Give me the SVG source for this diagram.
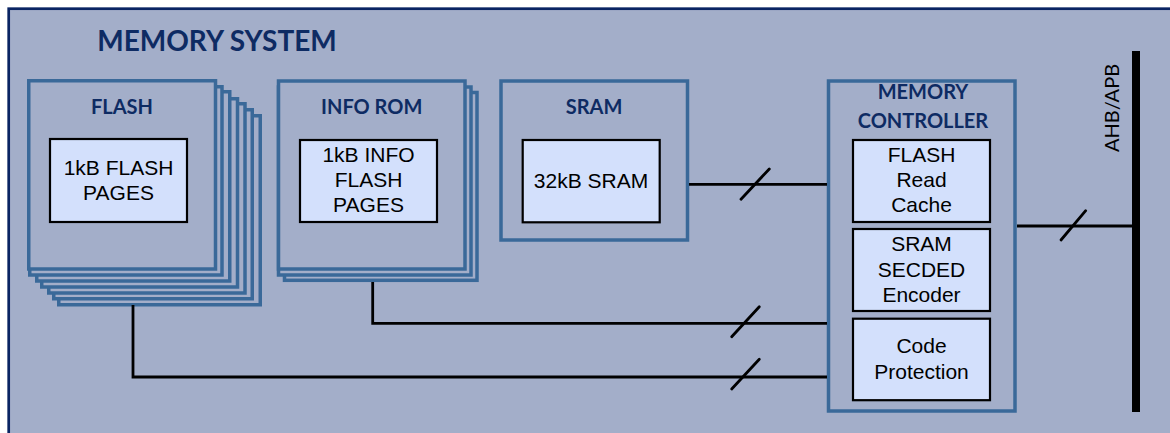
<svg xmlns="http://www.w3.org/2000/svg" width="1170" height="433" viewBox="0 0 1170 433">
<style>
.bg{fill:#a3aec9}
.blk{fill:#a3aec9;stroke:#3a6999;stroke-width:3.5}
.inner{fill:#d3e0fc;stroke:#000;stroke-width:2.2}
.title{font-family:Lato,"Open Sans",sans-serif;font-weight:bold;fill:#0e2b63;text-anchor:middle}
.t{font-family:"Liberation Sans",Arial,sans-serif;font-size:21px;fill:#000;text-anchor:middle}
.wire{fill:none;stroke:#000;stroke-width:2.8}
.slash{stroke:#000;stroke-width:2.8;stroke-linecap:round}
</style>
<rect width="1170" height="433" fill="#ffffff"/>
<rect x="8.7" y="8.7" width="1200" height="500" class="bg" stroke="#0a2463" stroke-width="2.7"/>
<text x="217" y="51" class="title" font-size="28">MEMORY SYSTEM</text>

<g id="flash">
<rect x="58.75" y="115.75" width="201.5" height="189" class="blk"/>
<rect x="53.75" y="109.75" width="198.5" height="189" class="blk"/>
<rect x="48.75" y="103.75" width="196.25" height="189.25" class="blk"/>
<rect x="41.75" y="98.75" width="195.75" height="188.25" class="blk"/>
<rect x="36.75" y="91.75" width="193" height="189.25" class="blk"/>
<rect x="29.75" y="86.75" width="192.25" height="188.25" class="blk"/>
<rect x="28.75" y="80.75" width="186.75" height="188.25" class="blk"/>
<text x="122" y="114" class="title" font-size="20">FLASH</text>
<rect x="50" y="139" width="137" height="83" class="inner"/>
<text x="118.5" y="175" class="t">1kB FLASH</text>
<text x="118.5" y="200" class="t">PAGES</text>
</g>

<g id="inforom">
<rect x="284.5" y="92.5" width="192.5" height="187.8" class="blk"/>
<rect x="278.5" y="87" width="192.5" height="188" class="blk"/>
<rect x="278.5" y="81" width="186.5" height="188" class="blk"/>
<text x="371.7" y="114" class="title" font-size="20">INFO ROM</text>
<rect x="300" y="140" width="137" height="82" class="inner"/>
<text x="368.5" y="162" class="t">1kB INFO</text>
<text x="368.5" y="187" class="t">FLASH</text>
<text x="368.5" y="212" class="t">PAGES</text>
</g>

<g id="sram">
<rect x="501" y="81" width="186.5" height="159" class="blk"/>
<text x="594" y="114" class="title" font-size="20">SRAM</text>
<rect x="522.7" y="140" width="137" height="82.3" class="inner"/>
<text x="591" y="188" class="t">32kB SRAM</text>
</g>

<g id="memctrl">
<rect x="828.5" y="81" width="186.5" height="330" class="blk"/>
<text x="923" y="99.3" class="title" font-size="20">MEMORY</text>
<text x="923" y="127.7" class="title" font-size="20">CONTROLLER</text>
</g>

<g id="flashcache">
<rect x="853" y="140" width="137" height="82" class="inner"/>
<text x="921.5" y="162" class="t">FLASH</text>
<text x="921.5" y="187" class="t">Read</text>
<text x="921.5" y="212.3" class="t">Cache</text>
</g>

<g id="secded">
<rect x="853" y="229" width="137" height="82" class="inner"/>
<text x="921.5" y="251" class="t">SRAM</text>
<text x="921.5" y="276.7" class="t">SECDED</text>
<text x="921.5" y="301.7" class="t">Encoder</text>
</g>

<g id="codeprot">
<rect x="853" y="318.7" width="137" height="81.5" class="inner"/>
<text x="921.5" y="353.3" class="t">Code</text>
<text x="921.5" y="379" class="t">Protection</text>
</g>

<g id="bus">
<rect x="1132" y="51" width="8" height="361" fill="#000"/>
<text transform="translate(1119 108) rotate(-90)" font-family="Lato,'Open Sans',sans-serif" font-size="20" fill="#000" text-anchor="middle">AHB/APB</text>
</g>

<g id="connectors">
<path class="wire" d="M689 184.3H827"/>
<line class="slash" x1="741" y1="199.3" x2="769.3" y2="169"/>
<path class="wire" d="M372.7 282V323.3H827"/>
<line class="slash" x1="731.7" y1="336.7" x2="759.3" y2="306.7"/>
<path class="wire" d="M133 305V377H827"/>
<line class="slash" x1="731.7" y1="389" x2="759.3" y2="359.3"/>
<path class="wire" d="M1017 226H1132"/>
<line class="slash" x1="1061" y1="240" x2="1085.7" y2="210.7"/>
</g>
</svg>
